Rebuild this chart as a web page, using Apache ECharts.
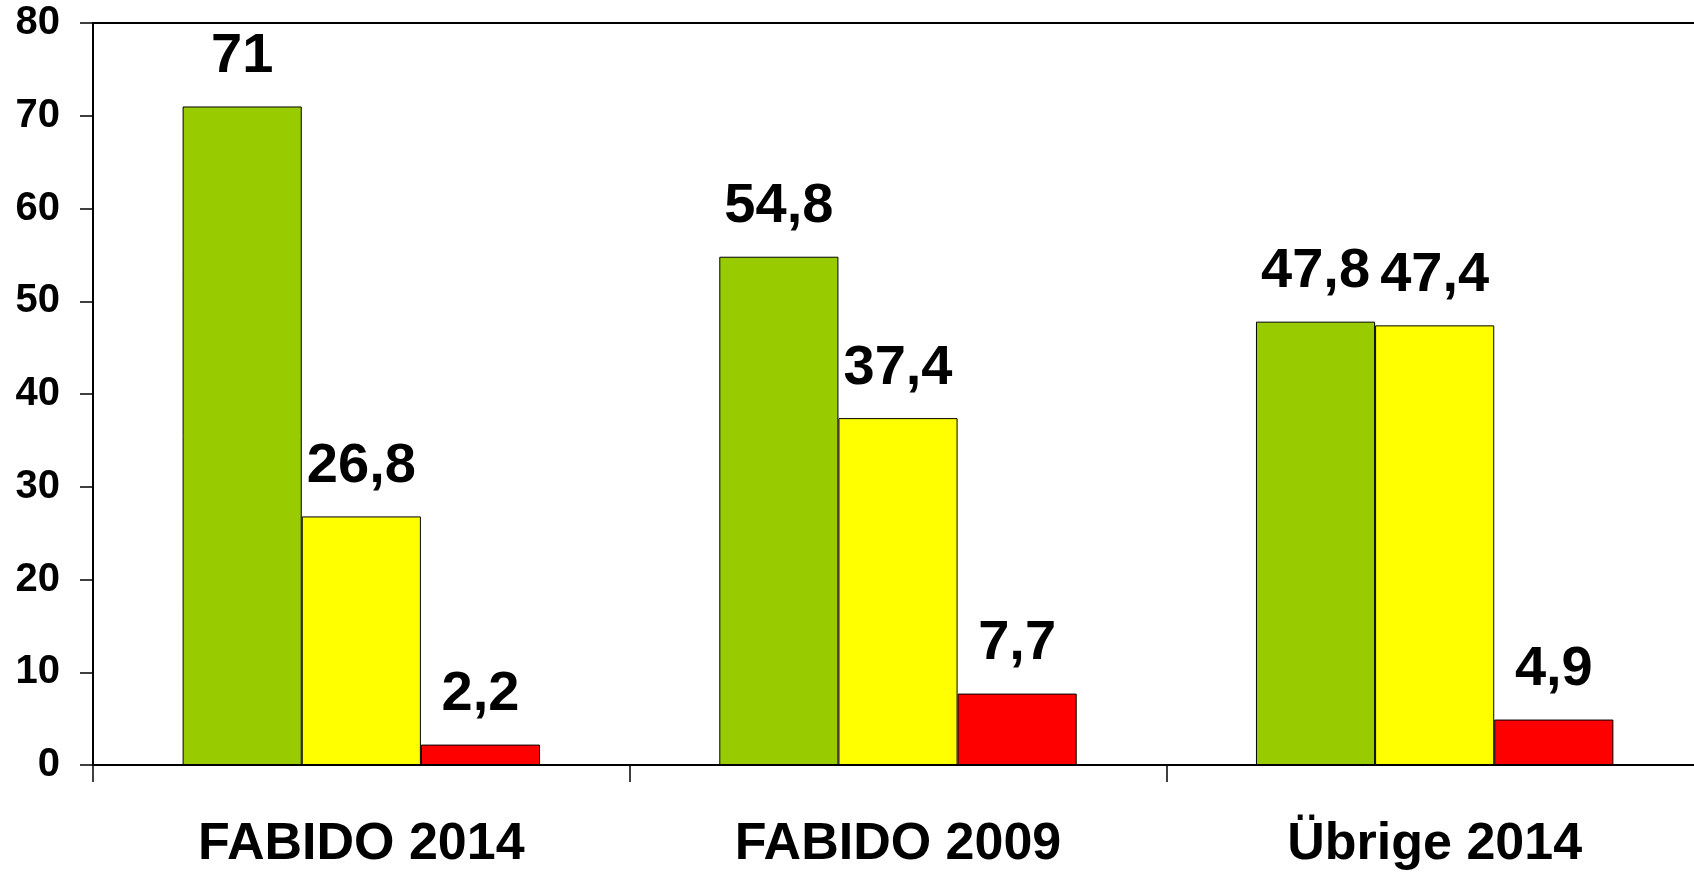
<!DOCTYPE html>
<html>
<head>
<meta charset="UTF-8">
<title>FABIDO</title>
<script src="https://cdn.jsdelivr.net/npm/echarts@6/dist/echarts.min.js"></script>
<style type="text/css">
html, body {
	width: 100%;
	height: 100%;
	padding: 0px;
	margin: 0px;
	background: #fff;
}
</style>
</head>
<body>
	<div id="chart" style="width: 1694px; height: 873px;"></div>

	<script type="text/javascript">
        // Kategorien
        var categories = ['FABIDO 2014', 'FABIDO 2009', 'Übrige 2014'];
        // Werte je Reihe
        var greenValues = [71, 54.8, 47.8];
        var yellowValues = [26.8, 37.4, 47.4];
        var redValues = [2.2, 7.7, 4.9];
        var yTicks = [0, 10, 20, 30, 40, 50, 60, 70, 80];

        var font = '"Liberation Sans", Arial, sans-serif';

        // Beschriftung mit Dezimalkomma
        function fmt(p) {
            return String(p.value).replace('.', ',');
        }

        function makeSeries(name, data, color) {
            return {
                name: name,
                type: 'bar',
                data: data,
                barWidth: '22.2%',
                barGap: '0%',
                itemStyle: { color: color, borderColor: '#000', borderWidth: 1 },
                label: {
                    show: true,
                    position: 'top',
                    distance: 22,
                    formatter: fmt,
                    color: '#000',
                    fontFamily: font,
                    fontWeight: 'bold',
                    fontSize: 56
                }
            };
        }

        var myChart = echarts.init(document.getElementById('chart'));
        myChart.setOption({
            animation: false,
            // Plotbereich läuft rechts etwas über den Rand hinaus
            grid: { left: 93, width: 1610, top: 23, bottom: 108, outerBoundsMode: 'none' },
            xAxis: [{
                type: 'category',
                data: categories,
                axisLine: { lineStyle: { color: '#000', width: 2 } },
                axisTick: { show: true, alignWithLabel: false, length: 17, lineStyle: { color: '#000', width: 1.5 } },
                axisLabel: {
                    margin: 54,
                    color: '#000',
                    fontFamily: font,
                    fontWeight: 'bold',
                    fontSize: 52
                }
            }, {
                type: 'category',
                position: 'top',
                data: categories,
                axisLine: { lineStyle: { color: '#000', width: 2 } },
                axisTick: { show: false },
                axisLabel: { show: false }
            }],
            yAxis: {
                type: 'value',
                min: yTicks[0],
                max: yTicks[yTicks.length - 1],
                interval: 10,
                splitLine: { show: false },
                axisLine: { show: true, lineStyle: { color: '#000', width: 2 } },
                axisTick: { show: true, length: 13, lineStyle: { color: '#000', width: 1.5 } },
                axisLabel: {
                    margin: 33,
                    color: '#000',
                    fontFamily: font,
                    fontWeight: 'bold',
                    fontSize: 40
                }
            },
            series: [
                makeSeries('Grün', greenValues, '#99CC00'),
                makeSeries('Gelb', yellowValues, '#FFFF00'),
                makeSeries('Rot', redValues, '#FF0000')
            ]
        });
	</script>
</body>
</html>
